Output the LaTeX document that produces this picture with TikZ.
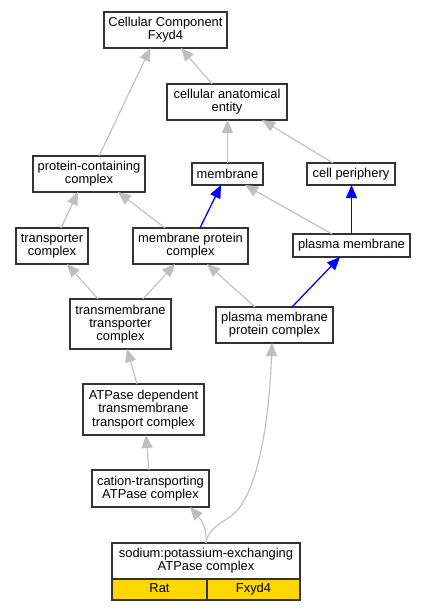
\documentclass[tikz,border=0pt]{standalone}
\usepackage{fontspec}
\setmainfont{Liberation Sans}
\usetikzlibrary{arrows.meta}
\definecolor{edgegray}{RGB}{190,190,190}
\definecolor{boxgold}{RGB}{255,215,0}
\tikzset{
  term/.style={draw=black!80, line width=1.2pt, fill=white, align=center, inner sep=0pt, outer sep=0pt,
    font=\fontsize{12.9}{13.3}\selectfont},
  cell/.style={term, fill=boxgold, minimum height=21pt, text height=9.4pt, text depth=2.6pt},
  grayedge/.style={draw=edgegray, line width=1.1pt, -{Triangle[length=13pt,width=11pt]}},
  blueedge/.style={draw=blue, line width=1.3pt, -{Triangle[length=13pt,width=11pt]}},
}
\begin{document}
\begin{tikzpicture}[x=1pt,y=-1pt]
\useasboundingbox (0,0) rectangle (427,611);
\node[term, minimum width=123pt, minimum height=36pt] (cc) at (165.5,30) {Cellular Component\\Fxyd4};
\node[term, minimum width=120pt, minimum height=36pt] (cae) at (227,102) {cellular anatomical\\entity};
\node[term, minimum width=112pt, minimum height=36pt] (pcc) at (89,174) {protein-containing\\complex};
\node[term, minimum width=71pt, minimum height=22pt] (mem) at (227.5,174) {membrane};
\node[term, minimum width=88pt, minimum height=22pt] (cp) at (351,174) {cell periphery};
\node[term, minimum width=72pt, minimum height=36pt] (trc) at (52,246) {transporter\\complex};
\node[term, minimum width=115pt, minimum height=36pt] (mpc) at (190.5,246) {membrane protein\\complex};
\node[term, minimum width=117pt, minimum height=23pt] (pm) at (351.5,245.5) {plasma membrane};
\node[term, minimum width=101pt, minimum height=50pt] (tmtc) at (120.5,324) {transmembrane\\transporter\\complex};
\node[term, minimum width=117pt, minimum height=36pt] (pmpc) at (274.5,325) {plasma membrane\\protein complex};
\node[term, minimum width=121pt, minimum height=51pt] (atp) at (143.5,409.5) {ATPase dependent\\transmembrane\\transport complex};
\node[term, minimum width=117pt, minimum height=37pt] (cat) at (150.5,488.5) {cation-transporting\\ATPase complex};
\node[term, minimum width=188pt, minimum height=36pt] (sod) at (206,561) {sodium:potassium-exchanging\\ATPase complex};
\node[cell, minimum width=95pt, anchor=north west] (rat) at (sod.south west) {Rat};
\node[cell, minimum width=93pt, anchor=north east] (gene) at (sod.south east) {Fxyd4};

\draw[grayedge] ([xshift=10pt]pcc.north) -- ([xshift=-15pt]cc.south);
\draw[grayedge] ([xshift=-15pt]cae.north) -- ([xshift=15.5pt]cc.south);
\draw[grayedge] (mem.north) -- (mem.north |- cae.south);
\draw[grayedge] ([xshift=-18pt]cp.north) -- ([xshift=35pt]cae.south);
\draw[grayedge] ([xshift=9pt]trc.north) -- ([xshift=-11pt]pcc.south);
\draw[grayedge] ([xshift=-25.5pt]mpc.north) -- ([xshift=29pt]pcc.south);
\draw[blueedge] ([xshift=9.5pt]mpc.north) -- ([xshift=-6.5pt]mem.south);
\draw[grayedge] ([xshift=-19.5pt]pm.north) -- ([xshift=17.5pt]mem.south);
\draw[blueedge] (pm.north) -- (pm.north |- cp.south);
\draw[grayedge] ([xshift=-22.5pt]tmtc.north) -- ([xshift=15pt]trc.south);
\draw[grayedge] ([xshift=22.5pt]tmtc.north) -- ([xshift=-15.5pt]mpc.south);
\draw[grayedge] ([xshift=-19.5pt]pmpc.north) -- ([xshift=16.5pt]mpc.south);
\draw[blueedge] ([xshift=17.5pt]pmpc.north) -- ([xshift=-11.5pt]pm.south);
\draw[grayedge] ([xshift=-6.5pt]atp.north) -- ([xshift=6.5pt]tmtc.south);
\draw[grayedge] ([xshift=-1.5pt]cat.north) -- ([xshift=2.5pt]atp.south);
\draw[grayedge] (sod.north) .. controls (207,530) and (203,522) .. ([xshift=39.5pt]cat.south);
\coordinate (bend) at (230,517);
\draw[grayedge] (sod.north) .. controls (207,530) and (222,522) .. (bend) .. controls (262,495) and (270,400) .. ([xshift=-2.5pt]pmpc.south);
\end{tikzpicture}
\end{document}
